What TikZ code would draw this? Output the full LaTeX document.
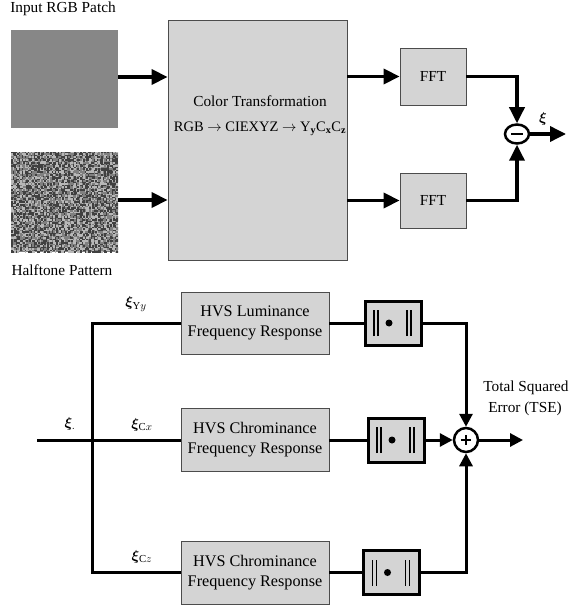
\documentclass[tikz,border=0pt]{standalone}
\usepackage{amsmath}
\usepackage{bm}
\usepackage{fontspec}
\setmainfont{Liberation Serif}
\usetikzlibrary{arrows.meta,calc,shapes.geometric}
\begin{document}
\begin{tikzpicture}[x=1pt,y=-1pt,
  every node/.style={font=\fontsize{15.3}{20}\selectfont},
  graybox/.style={draw=black!70, line width=0.8pt, fill=black!17, inner sep=0pt, align=center},
  bigarr/.style={line width=3.5pt, -{Triangle[length=16pt,width=15pt]}},
  bigline/.style={line width=3.5pt},
  smarr/.style={line width=3pt, -{Triangle[length=13pt,width=13pt]}},
  smline/.style={line width=3pt},
  absbox/.style={draw=black, line width=3pt, fill=black!17, minimum width=56pt, minimum height=44pt, inner sep=0pt,
    path picture={
      \draw[black, line width=1.3pt] ([shift={(-19pt,-13pt)}]path picture bounding box.center) -- ++(0pt,26pt);
      \draw[black, line width=1.3pt] ([shift={(-15pt,-13pt)}]path picture bounding box.center) -- ++(0pt,26pt);
      \draw[black, line width=1.3pt] ([shift={(14pt,-13pt)}]path picture bounding box.center) -- ++(0pt,26pt);
      \draw[black, line width=1.3pt] ([shift={(18pt,-13pt)}]path picture bounding box.center) -- ++(0pt,26pt);
      \fill[black] ([shift={(-4pt,0pt)}]path picture bounding box.center) circle (3.5pt);
    }},
  sumnode/.style={draw=black, line width=2.5pt, fill=white, circle, minimum size=24pt, inner sep=0pt},
  lbl/.style={inner sep=0pt},
  hvsfont/.style={font=\fontsize{16.2}{20}\selectfont}
]
\useasboundingbox (0,0) rectangle (569,609);

% ---------- top half ----------
\node[lbl] (tin) at (63,9) {Input RGB Patch};
\node[draw=none, fill=black!47, minimum width=107pt, minimum height=98pt, inner sep=0pt] (rgb) at (64.5,79) {};

\node[draw=none, fill=black!50, minimum width=107pt, minimum height=100pt, inner sep=0pt] (ht) at (64.5,202) {};
\begin{scope}
  \clip (11,152) rectangle (118,252);
  \pgfmathsetseed{7}
  \foreach \i in {0,...,71} {
    \foreach \j in {0,...,66} {
      \pgfmathsetmacro\r{rnd}
      \ifdim\r pt>0.62pt
        \fill[black!75] ({11+1.5*\i},{152+1.5*\j}) rectangle ++(1.5,1.5);
      \else
        \ifdim\r pt<0.3pt
          \fill[black!28] ({11+1.5*\i},{152+1.5*\j}) rectangle ++(1.5,1.5);
        \fi
      \fi
    }
  }
\end{scope}
\node[lbl] (tht) at (62,270) {Halftone Pattern};

\node[graybox, minimum width=179pt, minimum height=240pt] (ct) at (257.5,140) {};
\node[lbl] (ctt1) at (260,101) {Color Transformation};
\node[lbl, font=\fontsize{14.5}{18}\selectfont] (ctt2) at (260,129) {RGB $\rightarrow$ CIEXYZ $\rightarrow$ Y$_{\mathbf{y}}$C$_{\mathbf{x}}$C$_{\mathbf{z}}$};

\node[graybox, minimum width=66pt, minimum height=57pt] (fft1) at (433,76.5) {FFT};
\node[graybox, minimum width=66pt, minimum height=55pt] (fft2) at (433,200.5) {FFT};

\node[draw=black, line width=2.5pt, fill=white, ellipse, minimum width=24pt, minimum height=19pt, inner sep=0pt] (dif) at (517,134) {};
\draw[line width=2.5pt] ($(dif)+(-6,0)$) -- ($(dif)+(6,0)$);
\coordinate (dout) at (566,134);
\node[lbl] (xi) at (543,119) {$\bm{\xi}$};

\draw[bigarr] (rgb.east |- 0,77) -- (ct.west |- 0,77);
\draw[bigarr] (ht.east |- 0,200) -- (ct.west |- 0,200);
\draw[bigarr] (ct.east |- fft1.west) -- (fft1.west);
\draw[bigarr] (ct.east |- fft2.west) -- (fft2.west);
\draw[bigarr] (fft1.east) -| (dif.north);
\draw[bigarr] (fft2.east) -| (dif.south);
\draw[bigarr] (dif.east) -- (dout);

% ---------- bottom half ----------
\node[graybox, hvsfont, minimum width=148pt, minimum height=62pt] (hvs1) at (255,323) {HVS Luminance\\Frequency Response};
\node[graybox, hvsfont, minimum width=148pt, minimum height=63pt] (hvs2) at (255,440) {HVS Chrominance\\Frequency Response};
\node[graybox, hvsfont, minimum width=148pt, minimum height=63pt] (hvs3) at (255,572.5) {HVS Chrominance\\Frequency Response};

\node[absbox] (abs1) at (393,323) {};
\node[absbox] (abs2) at (396,440) {};
\node[absbox] (abs3) at (391.5,572.5) {};

\node[sumnode] (sum) at (466,440) {};
\draw[line width=2.5pt] ($(sum)+(-5,0)$) -- ($(sum)+(5,0)$);
\draw[line width=2.5pt] ($(sum)+(0,-5)$) -- ($(sum)+(0,5)$);

\coordinate (in) at (37,440);
\coordinate (j) at (92,440);
\coordinate (sout) at (523,440);

\draw[smline] (in) -- (hvs2.west);
\draw[smline] (hvs1.west) -| (j) |- (hvs3.west);
\draw[smline] (hvs1.east) -- (abs1.west);
\draw[smline] (hvs2.east) -- (abs2.west);
\draw[smline] (hvs3.east) -- (abs3.west);
\draw[smarr] (abs1.east) -| (sum.north);
\draw[smarr] (abs2.east) -- (sum.west);
\draw[smarr] (abs3.east) -| (sum.south);
\draw[smarr] (sum.east) -- (sout);

\node[lbl] (lxi) at (70,424) {$\bm{\xi}_{.}$};
\node[lbl] (lyy) at (136,304) {$\bm{\xi}_{\mathrm{Y}y}$};
\node[lbl] (lcx) at (142,425) {$\bm{\xi}_{\mathrm{C}x}$};
\node[lbl] (lcz) at (142,557) {$\bm{\xi}_{\mathrm{C}z}$};

\node[lbl] (tse1) at (526,388) {Total Squared};
\node[lbl] (tse2) at (525,409) {Error (TSE)};
\end{tikzpicture}
\end{document}
